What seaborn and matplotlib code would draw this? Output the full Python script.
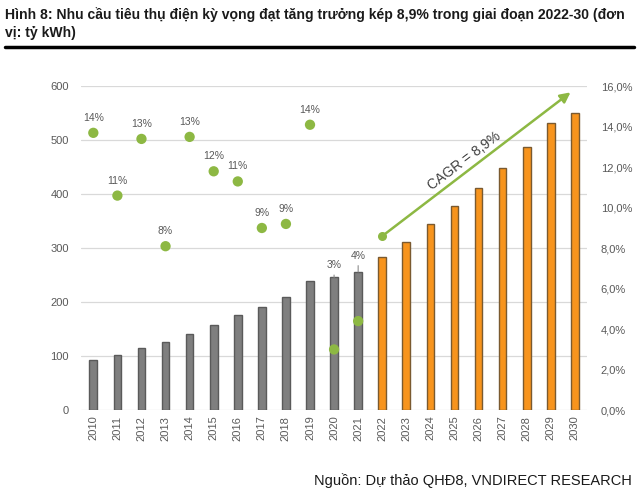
import matplotlib
matplotlib.use("Agg")
import matplotlib.pyplot as plt
import seaborn as sns
import pandas as pd
from matplotlib.lines import Line2D

years = [str(y) for y in range(2010, 2031)]
demand = [93, 102, 116, 126, 141, 158, 176, 192, 210, 239, 246, 256,
          284, 312, 344, 378, 412, 449, 488, 532, 551]
phase = ["Thực tế"] * 12 + ["Dự báo"] * 9

growth_years = [str(y) for y in range(2010, 2022)]
growth = [13.7, 10.6, 13.4, 8.1, 13.5, 11.8, 11.3, 9.0, 9.2, 14.1, 3.0, 4.4]
growth_labels = ["14%", "11%", "13%", "8%", "13%", "12%", "11%", "9%", "9%",
                 "14%", "3%", "4%"]

left_ticks = [0, 100, 200, 300, 400, 500, 600]
right_ticks = [0, 2, 4, 6, 8, 10, 12, 14, 16]
right_tick_labels = ["0,0%", "2,0%", "4,0%", "6,0%", "8,0%", "10,0%",
                     "12,0%", "14,0%", "16,0%"]

cagr_label = "CAGR = 8,9%"
cagr_from = ("2022", 8.6)
cagr_to = ("2030", 15.7)

title = ("Hình 8: Nhu cầu tiêu thụ điện kỳ vọng đạt tăng trưởng kép 8,9% "
         "trong giai đoạn 2022-30 (đơn\nvị: tỷ kWh)")
source = "Nguồn: Dự thảo QHĐ8, VNDIRECT RESEARCH"

sns.set_style("white")
plt.rcParams["font.family"] = ["Liberation Sans", "DejaVu Sans"]

GRAY = "#7F7F7F"
ORANGE = "#F7941D"
GREEN = "#8DB843"
TXT = "#595959"

fig = plt.figure(figsize=(6.4, 4.93), dpi=100)
ax = fig.add_axes([0.127, 0.168, 0.790, 0.657])

df = pd.DataFrame({"year": years, "demand": demand, "phase": phase})
sns.barplot(data=df, x="year", y="demand", hue="phase",
            palette={"Thực tế": GRAY, "Dự báo": ORANGE}, saturation=1,
            dodge=False, width=0.32, legend=False, ax=ax,
            linewidth=1.0, edgecolor="#555555")
for cont, ec in zip(ax.containers, ["#5A5A5A", "#7A5A30"]):
    for p in cont:
        p.set_edgecolor(ec)

ax.set_ylim(0, 600)
ax.set_xlim(-0.5, len(years) - 0.5)
ax.set_yticks(left_ticks)
ax.set_yticklabels([str(t) for t in left_ticks])
ax.yaxis.grid(True, color="#D9D9D9", lw=0.9)
ax.set_axisbelow(True)
for s in ax.spines.values():
    s.set_visible(False)
ax.set_xlabel("")
ax.set_ylabel("")
ax.tick_params(axis="x", rotation=90, colors=TXT, labelsize=8, length=0, pad=4)
ax.tick_params(axis="y", colors=TXT, labelsize=8, length=0, pad=9)

ax2 = ax.twinx()
gx = [years.index(y) for y in growth_years]
sns.scatterplot(x=gx, y=growth, color=GREEN, s=55, edgecolor="none",
                ax=ax2, zorder=5)
ax2.set_ylim(0, 16)
ax2.set_yticks(right_ticks)
ax2.set_yticklabels(right_tick_labels)
ax2.tick_params(axis="y", colors=TXT, labelsize=8, length=0, pad=10)
for s in ax2.spines.values():
    s.set_visible(False)
ax2.set_xlim(ax.get_xlim())

# labels
for xi, yv, lab, yr in zip(gx, growth, growth_labels, growth_years):
    if yv < 6:
        # label above the bar with leader line
        bar_val = demand[years.index(yr)]
        ax.annotate(lab, xy=(xi, bar_val), xytext=(0, 7 + (xi - 10) * 4),
                    textcoords="offset pixels", ha="center", va="bottom",
                    fontsize=7.5, color=TXT,
                    arrowprops=dict(arrowstyle="-", color="#8C8C8C", lw=0.8,
                                    shrinkA=1, shrinkB=0))
    else:
        ax2.annotate(lab, xy=(xi, yv), xytext=(0, 10),
                     textcoords="offset pixels", ha="center", va="bottom",
                     fontsize=7.5, color=TXT)

# CAGR arrow
x0 = years.index(cagr_from[0])
x1 = years.index(cagr_to[0]) - 0.18
ax2.scatter([x0], [cagr_from[1]], color=GREEN, s=30, zorder=6)
ax2.annotate("", xy=(x1, cagr_to[1]), xytext=(x0, cagr_from[1]),
             arrowprops=dict(arrowstyle="-|>,head_length=0.6,head_width=0.3",
                             color=GREEN, lw=1.8, shrinkA=0, shrinkB=0))
ax2.text(15.4, 12.3, cagr_label, rotation=37, ha="center", va="center",
         fontsize=10, color="#404040", rotation_mode="anchor")

fig.text(0.008, 0.985, title, ha="left", va="top", fontsize=10.1,
         fontweight="bold", color="#1A1A1A", linespacing=1.3)
fig.add_artist(Line2D([0.008, 0.99], [0.905, 0.905], color="black", lw=2.5))
fig.text(0.988, 0.025, source, ha="right", va="center", fontsize=10.5,
         color="#1A1A1A")

fig.savefig("out.png", dpi=100)
